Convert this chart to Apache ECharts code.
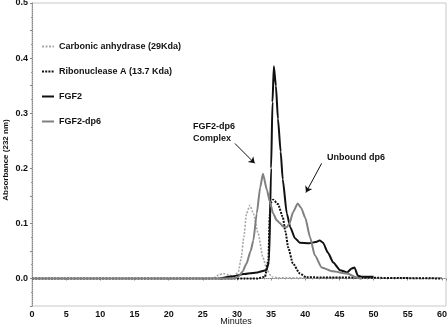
<!DOCTYPE html>
<html>
<head>
<meta charset="utf-8">
<script src="https://cdn.jsdelivr.net/npm/echarts@6/dist/echarts.min.js"></script>
<style>
  html, body { margin: 0; padding: 0; background: #fff; }
  #chart { width: 448px; height: 327px; }
</style>
</head>
<body>
<div id="chart"></div>
<script>
// values (minutes, absorbance at 232 nm)
const carbonicMin = [0, 26.5, 27.3, 28, 28.8, 29.6, 30.2, 30.6, 31.0, 31.4, 31.9, 32.4, 33.1, 33.8, 34.4, 35.1, 36, 60];
const carbonicAbs = [0, 0, 0.006, 0.009, 0.006, 0.004, 0.012, 0.035, 0.075, 0.118, 0.133, 0.118, 0.082, 0.038, 0.015, 0.003, 0.001, 0.001];

const ribonucleaseMin = [0, 33, 34.1, 34.6, 34.8, 35.0, 35.3, 36, 36.7, 37.1, 37.5, 38.2, 39.2, 40.2, 60];
const ribonucleaseAbs = [0, 0, 0.003, 0.033, 0.115, 0.138, 0.143, 0.135, 0.112, 0.085, 0.056, 0.027, 0.009, 0.002, 0];

const fgf2Min = [27.5, 29.5, 31, 33, 34.3, 34.7, 35.0, 35.2, 35.4, 35.7, 36.0, 36.4, 36.7, 37.3, 37.8, 38.5, 39.2, 40.6, 41.5, 42.1, 42.6, 43.3, 44.1, 45.1, 46.1, 46.8, 47.2, 47.7, 48.3, 50];
const fgf2Abs = [0, 0.004, 0.008, 0.011, 0.015, 0.03, 0.2, 0.32, 0.385, 0.35, 0.29, 0.23, 0.18, 0.118, 0.093, 0.073, 0.065, 0.064, 0.066, 0.069, 0.065, 0.047, 0.029, 0.015, 0.011, 0.018, 0.02, 0.005, 0.003, 0.003];

const dp6Min = [0, 29.5, 30.2, 30.8, 31.4, 32.0, 32.4, 32.9, 33.4, 33.8, 34.4, 34.8, 35.3, 35.8, 36.3, 36.8, 37.3, 37.7, 38.2, 38.9, 39.4, 40.0, 40.7, 41.4, 42.4, 44, 46.1, 47.7, 48.3];
const dp6Abs = [0, 0, 0.003, 0.012, 0.027, 0.05, 0.069, 0.118, 0.165, 0.19, 0.16, 0.14, 0.118, 0.106, 0.1, 0.094, 0.093, 0.1, 0.12, 0.136, 0.128, 0.11, 0.075, 0.042, 0.02, 0.013, 0.009, 0.001, 0];

const seriesNames = ['Carbonic anhydrase (29Kda)', 'Ribonuclease A (13.7 Kda)', 'FGF2', 'FGF2-dp6'];

// arrow start / end in data units
const arrowComplex = [[29.7, 0.245], [32.6, 0.209]];
const arrowUnbound = [[42.4, 0.209], [40.1, 0.156]];

function zip(xs, ys) {
    return xs.map((x, i) => [x, ys[i]]);
}

const font = 'Liberation Sans, Arial, sans-serif';

let chart = echarts.init(document.getElementById('chart'), null, { renderer: 'canvas' });

let lineSeries = function (name, data, color, width, type) {
    return {
        name: name,
        type: 'line',
        data: data,
        symbol: 'none',
        smooth: 0.2,
        smoothMonotone: 'x',
        lineStyle: { color: color, width: width, type: type },
        itemStyle: { color: color },
        animation: false,
    };
};

let series = [
    lineSeries(seriesNames[0], zip(carbonicMin, carbonicAbs), '#a8a8a8', 1.6, [2, 1.5]),
    lineSeries(seriesNames[1], zip(ribonucleaseMin, ribonucleaseAbs), '#111', 2, [2, 1.2]),
    lineSeries(seriesNames[2], zip(fgf2Min, fgf2Abs), '#111', 2, 'solid'),
    lineSeries(seriesNames[3], zip(dp6Min, dp6Abs), '#808080', 2, 'solid'),
];

// arrows pointing at the two dp6 peaks
series[3].markLine = {
    silent: true,
    animation: false,
    symbol: ['none', 'arrow'],
    symbolSize: 6,
    label: { show: false },
    lineStyle: { color: '#111', width: 1, type: 'solid' },
    data: [
        [{ coord: arrowComplex[0] }, { coord: arrowComplex[1] }],
        [{ coord: arrowUnbound[0] }, { coord: arrowUnbound[1] }],
    ],
};

let option = {
    backgroundColor: '#fff',
    animation: false,
    grid: {
        left: 32, top: 3, right: 2, bottom: 21,
        outerBoundsMode: 'none',
        containLabel: false,
        show: true, borderColor: '#c8c8c8', borderWidth: 1,
    },
    legend: {
        data: seriesNames,
        orient: 'vertical',
        left: 36,
        top: 37,
        itemWidth: 12,
        itemHeight: 10,
        itemGap: 16,
        selectedMode: false,
        itemStyle: { opacity: 0 },
        textStyle: { fontFamily: font, fontWeight: 'bold', fontSize: 9, color: '#111' },
    },
    xAxis: {
        type: 'value',
        min: 0,
        max: 60.6,
        interval: 5,
        axisLine: { lineStyle: { color: '#888', type: 'dotted' } },
        axisTick: { show: true, length: 2, lineStyle: { color: '#888' } },
        minorTick: { show: true, splitNumber: 5, length: 1, lineStyle: { color: '#999' } },
        splitLine: { show: false },
        axisLabel: {
            fontFamily: font, fontWeight: 'bold', fontSize: 9, color: '#111', margin: 4,
            formatter: v => (Math.abs(v % 5) < 1e-6 ? String(v) : ''),
        },
    },
    yAxis: {
        type: 'value',
        min: -0.05,
        max: 0.5,
        interval: 0.05,
        axisLine: { show: true, lineStyle: { color: '#888', type: 'dotted' } },
        axisTick: { show: true, length: 2, lineStyle: { color: '#888' } },
        minorTick: { show: true, splitNumber: 2, length: 1, lineStyle: { color: '#999' } },
        splitLine: { show: false },
        axisLabel: {
            fontFamily: font, fontWeight: 'bold', fontSize: 9, color: '#111', margin: 4,
            formatter: function (v) {
                let k = Math.round(v * 100);
                if (k < 0 || k % 10 !== 0) return '';
                return (k / 100).toFixed(1);
            },
        },
    },
    graphic: [
        // axis titles
        { type: 'text', x: 236, y: 322, style: { text: 'Minutes', font: '9px ' + font, fill: '#111', align: 'center', verticalAlign: 'middle' } },
        { type: 'text', x: 6, y: 160, rotation: Math.PI / 2, style: { text: 'Absorbance (232 nm)', font: 'bold 8px ' + font, fill: '#111', align: 'center', verticalAlign: 'middle' } },
        // peak annotations
        { type: 'text', left: 193, top: 122, style: { text: 'FGF2-dp6', font: 'bold 9px ' + font, fill: '#111' } },
        { type: 'text', left: 193, top: 134, style: { text: 'Complex', font: 'bold 9px ' + font, fill: '#111' } },
        { type: 'text', left: 327, top: 153, style: { text: 'Unbound dp6', font: 'bold 9px ' + font, fill: '#111' } },
    ],
    series: series,
};

chart.setOption(option);
</script>
</body>
</html>
